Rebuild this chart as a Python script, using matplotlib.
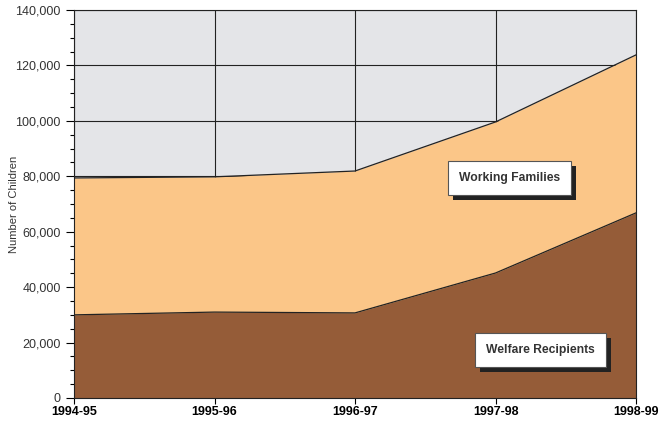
import numpy as np
import matplotlib.pyplot as plt
from matplotlib.patches import Rectangle
from matplotlib.transforms import IdentityTransform
from matplotlib.ticker import MultipleLocator, FuncFormatter

plt.rcParams['font.family'] = ['Liberation Sans', 'DejaVu Sans']

years = ['1994-95', '1995-96', '1996-97', '1997-98', '1998-99']
welfare = [30000, 31000, 30700, 45100, 66800]
total = [79400, 79800, 81900, 99600, 123800]

x = np.arange(len(years))

fig = plt.figure(figsize=(6.59, 4.22), dpi=100)
ax = fig.add_axes([0.1123, 0.0569, 0.8528, 0.9194])
ax.set_facecolor('#E4E5E8')

ax.fill_between(x, 0, total, color='#FBC688', zorder=2, linewidth=0)
ax.fill_between(x, 0, welfare, color='#955C38', zorder=3, linewidth=0)
ax.plot(x, total, color='#222222', lw=0.9, zorder=4)
ax.plot(x, welfare, color='#222222', lw=0.9, zorder=4)

ax.set_xlim(0, 4)
ax.set_ylim(0, 140000)
ax.set_xticks(x)
ax.set_xticklabels(years, fontweight='bold', fontsize=9)
ax.yaxis.set_major_locator(MultipleLocator(20000))
ax.yaxis.set_minor_locator(MultipleLocator(5000))
ax.yaxis.set_major_formatter(FuncFormatter(lambda v, p: f'{int(v):,}'))
ax.tick_params(axis='y', labelsize=9, labelcolor='#333333', length=6, width=0.8)
ax.tick_params(axis='y', which='minor', length=3, width=0.8)
ax.tick_params(axis='x', length=4, width=0.8, pad=2)
ax.grid(True, color='#222222', lw=0.8, zorder=1)
ax.set_axisbelow(True)
for s in ax.spines.values():
    s.set_color('#222222')
    s.set_linewidth(0.8)
    s.set_zorder(5)

ax.set_ylabel('Number of Children', fontsize=8, color='#333333')
ax.yaxis.set_label_coords(-0.098, 0.5)

# labels in white boxes with a dark drop shadow
labels = []
for xv, yv, txt in [(3.1, 79500, 'Working Families'),
                    (3.32, 17200, 'Welfare Recipients')]:
    t = ax.text(xv, yv, txt, ha='center', va='center', fontsize=8.7,
                fontweight='bold', color='#333333', zorder=7,
                bbox=dict(boxstyle='square,pad=0.9', fc='white', ec='#555555', lw=0.8))
    labels.append(t)

fig.canvas.draw()
r = fig.canvas.get_renderer()
for t in labels:
    bb = t.get_bbox_patch().get_window_extent(r)
    ax.add_patch(Rectangle((bb.x0 + 5, bb.y0 - 5), bb.width, bb.height,
                           transform=IdentityTransform(), fc='#222222',
                           ec='none', zorder=6))
ax.set_xlim(0, 4)
ax.set_ylim(0, 140000)

fig.savefig('out.png', dpi=100)
